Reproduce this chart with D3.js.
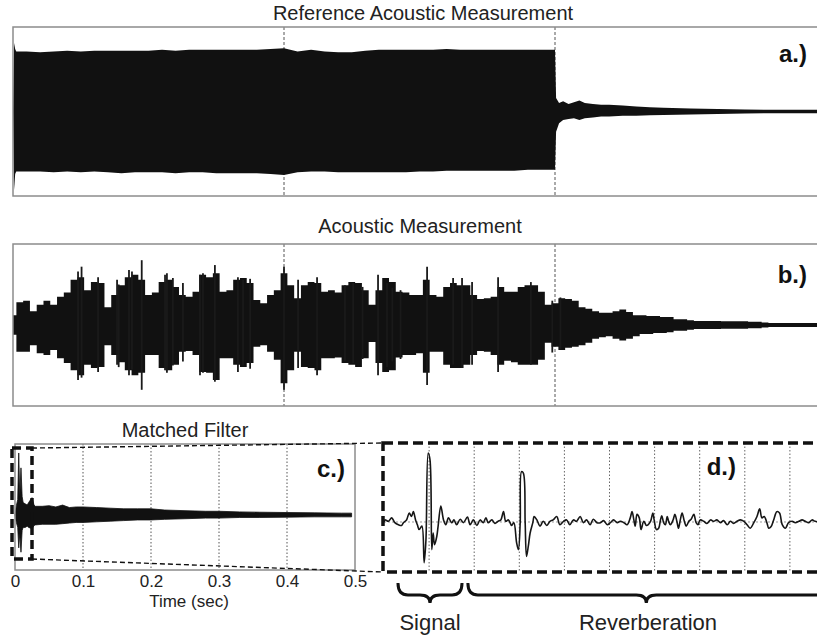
<!DOCTYPE html>
<html>
<head>
<meta charset="utf-8">
<script src="https://cdn.jsdelivr.net/npm/d3@7"></script>
<style>
body { margin: 0; background: #fff; }
text { font-family: "Liberation Sans", Arial, sans-serif; }
</style>
</head>
<body>
<div id="chart"></div>
<script>
// a.) reference measurement envelope (time in sec, amplitude normalised)
var refTime = [0, 0.004, 0.008, 0.012,
    0.05, 0.1, 0.15, 0.2, 0.25, 0.3, 0.35, 0.4, 0.45, 0.5,
    0.55, 0.6, 0.65, 0.7, 0.75, 0.8, 0.85, 0.9, 0.95, 1.0,
    1.05, 1.1, 1.15, 1.2, 1.25, 1.3, 1.35, 1.4, 1.45, 1.5,
    1.55, 1.6, 1.65, 1.7, 1.75, 1.8, 1.85, 1.9, 1.95, 2.0,
    2.004, 2.015, 2.03, 2.05, 2.07, 2.09, 2.11, 2.14, 2.17, 2.2,
    2.25, 2.3, 2.35, 2.4, 2.5, 2.6, 2.7, 2.8, 3.0];
var refTop = [0, 0.81, 0.74, 0.71,
    0.71, 0.70, 0.71, 0.72, 0.71, 0.72, 0.72, 0.72, 0.72, 0.72,
    0.73, 0.72, 0.73, 0.73, 0.73, 0.73, 0.73, 0.73, 0.74, 0.75,
    0.71, 0.73, 0.71, 0.70, 0.70, 0.72, 0.73, 0.73, 0.73, 0.73,
    0.73, 0.74, 0.73, 0.73, 0.73, 0.73, 0.73, 0.73, 0.73, 0.73,
    0.16, 0.10, 0.12, 0.09, 0.11, 0.13, 0.10, 0.09, 0.08, 0.08,
    0.07, 0.06, 0.05, 0.045, 0.035, 0.03, 0.025, 0.02, 0.02];
var refBottom = [0, 0.93, 0.74, 0.71,
    0.71, 0.71, 0.72, 0.71, 0.72, 0.71, 0.72, 0.73, 0.72, 0.72,
    0.72, 0.73, 0.72, 0.72, 0.73, 0.73, 0.73, 0.73, 0.74, 0.75,
    0.72, 0.71, 0.71, 0.72, 0.72, 0.72, 0.72, 0.72, 0.72, 0.71,
    0.71, 0.70, 0.70, 0.70, 0.70, 0.70, 0.70, 0.69, 0.69, 0.69,
    0.24, 0.14, 0.10, 0.09, 0.08, 0.10, 0.08, 0.07, 0.06, 0.06,
    0.05, 0.05, 0.045, 0.04, 0.035, 0.03, 0.025, 0.02, 0.02];

// b.) acoustic measurement envelope, one sample every 0.025 s
var measStep = 0.025;
var measTop = [0.12, 0.28, 0.30, 0.17, 0.25, 0.30, 0.25, 0.35, 0.40, 0.56,
    0.59, 0.43, 0.53, 0.52, 0.22, 0.37, 0.49, 0.59, 0.62, 0.56,
    0.37, 0.40, 0.53, 0.56, 0.47, 0.37, 0.35, 0.41, 0.62, 0.59,
    0.64, 0.41, 0.43, 0.56, 0.58, 0.52, 0.31, 0.27, 0.37, 0.43,
    0.64, 0.49, 0.33, 0.49, 0.53, 0.52, 0.41, 0.43, 0.40, 0.49,
    0.53, 0.52, 0.43, 0.25, 0.43, 0.58, 0.53, 0.41, 0.40, 0.37,
    0.37, 0.56, 0.37, 0.35, 0.47, 0.52, 0.49, 0.49, 0.37, 0.32,
    0.33, 0.35, 0.47, 0.41, 0.41, 0.47, 0.49, 0.49, 0.41, 0.25,
    0.27, 0.33, 0.32, 0.30, 0.22, 0.20, 0.17, 0.15, 0.15, 0.17,
    0.19, 0.16, 0.12, 0.12, 0.11, 0.11, 0.10, 0.10, 0.07, 0.07,
    0.06, 0.05, 0.05, 0.05, 0.05, 0.045, 0.045, 0.045, 0.045, 0.04,
    0.04, 0.03, 0.025, 0.025, 0.025, 0.025, 0.025, 0.025, 0.025, 0.025, 0.025];
var measBottom = [0.12, 0.33, 0.33, 0.25, 0.35, 0.37, 0.31, 0.41, 0.47, 0.56,
    0.62, 0.49, 0.53, 0.52, 0.25, 0.37, 0.46, 0.56, 0.62, 0.59,
    0.37, 0.37, 0.53, 0.56, 0.49, 0.33, 0.32, 0.37, 0.58, 0.59,
    0.68, 0.41, 0.41, 0.49, 0.52, 0.47, 0.27, 0.25, 0.33, 0.43,
    0.72, 0.56, 0.33, 0.52, 0.53, 0.56, 0.41, 0.41, 0.40, 0.47,
    0.49, 0.52, 0.41, 0.21, 0.47, 0.58, 0.56, 0.40, 0.37, 0.37,
    0.35, 0.59, 0.33, 0.33, 0.49, 0.53, 0.53, 0.49, 0.37, 0.32,
    0.33, 0.37, 0.49, 0.44, 0.46, 0.49, 0.49, 0.49, 0.43, 0.22,
    0.27, 0.31, 0.28, 0.27, 0.25, 0.22, 0.17, 0.15, 0.14, 0.17,
    0.19, 0.17, 0.14, 0.11, 0.11, 0.10, 0.10, 0.09, 0.07, 0.07,
    0.06, 0.05, 0.05, 0.05, 0.05, 0.045, 0.045, 0.045, 0.045, 0.04,
    0.04, 0.03, 0.025, 0.025, 0.025, 0.025, 0.025, 0.025, 0.025, 0.025, 0.025];
// isolated peaks sticking out of the envelope: [time, up, down]
var measSpikes = [[0.253, 0.72, 0.65], [0.24, 0.66, 0.68], [0.314, 0.59, 0.58], [0.384, 0.56, 0.49],
    [0.39, 0.50, 0.52], [0.428, 0.68, 0.62], [0.439, 0.66, 0.55], [0.475, 0.80, 0.80],
    [0.561, 0.62, 0.56], [0.568, 0.64, 0.59], [0.59, 0.58, 0.50], [0.627, 0.52, 0.45],
    [0.69, 0.62, 0.62], [0.701, 0.64, 0.59], [0.745, 0.74, 0.70], [0.830, 0.59, 0.58],
    [0.849, 0.56, 0.50], [0.875, 0.57, 0.54], [1.000, 0.72, 0.80], [1.052, 0.56, 0.53],
    [1.122, 0.59, 0.62], [1.225, 0.49, 0.44], [1.255, 0.52, 0.47], [1.29, 0.47, 0.42],
    [1.347, 0.62, 0.62], [1.380, 0.52, 0.52], [1.40, 0.46, 0.45], [1.43, 0.43, 0.42],
    [1.528, 0.72, 0.74], [1.624, 0.58, 0.49], [1.657, 0.58, 0.53], [1.694, 0.53, 0.49],
    [1.790, 0.59, 0.58], [1.911, 0.53, 0.49], [1.99, 0.30, 0.34], [2.02, 0.34, 0.30]];

// c.) matched filter output envelope
var mfTime = [0, 0.002, 0.004, 0.0055, 0.007, 0.0088, 0.0105, 0.012, 0.015, 0.018,
    0.02, 0.025, 0.028, 0.03, 0.04, 0.05, 0.06, 0.07, 0.08, 0.09,
    0.1, 0.12, 0.14, 0.16, 0.18, 0.2, 0.22, 0.25, 0.28, 0.3,
    0.33, 0.36, 0.4, 0.44, 0.48, 0.495];
var mfTop = [0, 0.15, 0.25, 1.0, 0.3, 0.76, 0.3, 0.2, 0.18, 0.16,
    0.2, 0.28, 0.16, 0.14, 0.14, 0.15, 0.13, 0.16, 0.12, 0.13,
    0.13, 0.12, 0.11, 0.10, 0.10, 0.10, 0.08, 0.07, 0.06, 0.06,
    0.05, 0.045, 0.04, 0.035, 0.03, 0.03];
var mfBottom = [0, 0.12, 0.2, 0.53, 0.3, 0.6, 0.25, 0.2, 0.2, 0.18,
    0.2, 0.22, 0.17, 0.16, 0.15, 0.15, 0.15, 0.14, 0.13, 0.12,
    0.12, 0.11, 0.10, 0.09, 0.08, 0.08, 0.07, 0.06, 0.05, 0.05,
    0.04, 0.04, 0.035, 0.03, 0.03, 0.03];
var mfTicks = [0, 0.1, 0.2, 0.3, 0.4, 0.5];
var zoomWindow = [-0.0044, 0.025];   // time span shown in d.)
var zoomAmp = [-0.71, 1.08];

// d.) zoomed matched filter trace: [grid units, amplitude]
var zoomTrace = [[0,0],[0.02,0.03],[0.10,0.01],[0.17,0.06],[0.24,-0.01],[0.32,-0.04],[0.39,-0.05],[0.43,-0.01],[0.50,0.03],[0.56,0.13],
    [0.61,0.08],[0.65,0.15],[0.70,0.03],[0.74,-0.04],[0.78,-0.11],[0.84,-0.06],[0.89,-0.59],[0.93,-0.26],[0.98,1.0],[1.02,0.90],
    [1.06,-0.40],[1.09,-0.16],[1.12,-0.33],[1.17,-0.21],[1.20,-0.06],[1.26,0.23],[1.32,0.03],[1.37,-0.04],[1.43,0.06],[1.50,-0.01],
    [1.55,0.03],[1.61,-0.04],[1.69,0.04],[1.76,-0.01],[1.85,0.07],[1.91,-0.04],[1.98,0.03],[2.06,-0.05],[2.13,0.03],[2.20,-0.01],
    [2.26,0.06],[2.31,-0.01],[2.39,0.03],[2.46,-0.02],[2.53,0.01],[2.59,0.03],[2.65,0.15],[2.70,0.01],[2.76,0.03],[2.83,-0.05],
    [2.88,-0.01],[2.94,-0.30],[2.98,-0.40],[3.02,-0.01],[3.05,0.73],[3.09,0.71],[3.13,-0.01],[3.16,-0.50],[3.20,-0.35],[3.24,-0.16],
    [3.30,-0.01],[3.33,0.08],[3.39,0.03],[3.46,-0.06],[3.53,0.01],[3.61,-0.05],[3.68,0.01],[3.75,0.03],[3.83,0.08],[3.90,-0.04],
    [3.98,0.01],[4.05,0.03],[4.12,-0.04],[4.20,0.03],[4.27,0.01],[4.35,0.08],[4.42,-0.01],[4.49,0.03],[4.57,-0.04],[4.64,0.04],
    [4.72,-0.01],[4.80,-0.01],[4.87,0.02],[4.95,-0.04],[5.02,-0.01],[5.09,0.03],[5.17,-0.01],[5.24,0.01],[5.32,-0.01],[5.39,-0.04],
    [5.46,0.06],[5.50,0.15],[5.54,0.03],[5.57,-0.06],[5.61,0.11],[5.66,0.06],[5.70,-0.11],[5.76,0.01],[5.82,-0.05],[5.91,0.01],
    [5.96,0.13],[5.99,0.03],[6.04,-0.11],[6.09,-0.09],[6.13,0.03],[6.16,0.09],[6.20,-0.01],[6.24,-0.04],[6.28,0.08],[6.31,0.01],
    [6.35,-0.04],[6.41,0.03],[6.45,0.11],[6.50,-0.01],[6.53,-0.09],[6.57,0.03],[6.61,0.13],[6.66,0.01],[6.70,-0.06],[6.76,0.01],
    [6.81,0.04],[6.87,0.11],[6.92,-0.01],[6.96,-0.04],[7.01,0.03],[7.09,0.01],[7.16,-0.02],[7.24,0.03],[7.31,0.01],[7.38,0.03],
    [7.46,-0.01],[7.53,0.02],[7.61,-0.04],[7.68,0.01],[7.75,-0.02],[7.83,0.01],[7.90,0.03],[7.98,0.01],[8.05,-0.04],[8.12,-0.09],
    [8.20,-0.01],[8.27,0.08],[8.33,0.19],[8.38,0.06],[8.43,0.08],[8.49,-0.01],[8.53,-0.09],[8.58,-0.07],[8.64,0.03],[8.71,0.15],
    [8.77,0.13],[8.83,-0.04],[8.90,-0.09],[8.97,-0.01],[9.05,0.01],[9.12,-0.01],[9.20,0.01],[9.27,0.03],[9.34,0.01],[9.42,-0.01],
    [9.49,0.03],[9.56,0.01],[9.67,0],[9.78,0.02],[10,0]];
var zoomGrid = [1, 2, 3, 4, 5, 6, 7, 8, 9];
var signalSpan = [0.31, 1.73];
var reverbSpan = [1.86, 9.95];

var W = 817, H = 638;
var ink = "#111";
var frameCol = "#8c8c8c";

var svg = d3.select("#chart")
    .append("svg")
    .attr("width", W)
    .attr("height", H);

var tX = d3.scaleLinear().domain([0, 3]).range([13, 826]);
var aY = d3.scaleLinear().domain([-1, 1]).range([196, 27]);
var bY = d3.scaleLinear().domain([-1, 1]).range([406, 244]);
var cX = d3.scaleLinear().domain([0, 0.5]).range([15, 355]);
var cY = d3.scaleLinear().domain([-0.887, 1.145]).range([570, 444]);
var dX = d3.scaleLinear().domain([0, 10]).range([384, 835]);
var dY = d3.scaleLinear().domain([-0.725, 1.145]).range([572, 443]);

function frame(x, y) {
    svg.append("rect")
        .attr("x", x.range()[0])
        .attr("y", y.range()[1])
        .attr("width", x.range()[1] - x.range()[0])
        .attr("height", y.range()[0] - y.range()[1])
        .attr("fill", "none")
        .attr("stroke", frameCol)
        .attr("stroke-width", 1.5);
}

function vgrid(g, ticks, x, y, dash, col) {
    g.selectAll(null)
        .data(ticks)
        .enter()
        .append("line")
        .attr("x1", function(d){ return x(d); })
        .attr("x2", function(d){ return x(d); })
        .attr("y1", y.range()[1])
        .attr("y2", y.range()[0])
        .attr("stroke", col)
        .attr("stroke-width", 1)
        .attr("stroke-dasharray", dash);
}

function title(txt, x, y) {
    svg.append("text")
        .attr("x", x).attr("y", y)
        .attr("text-anchor", "middle")
        .attr("font-size", 20)
        .attr("fill", "#222")
        .text(txt);
}

function tag(txt, x, y) {
    svg.append("text")
        .attr("x", x).attr("y", y)
        .attr("text-anchor", "end")
        .attr("font-size", 24)
        .attr("font-weight", "bold")
        .attr("fill", ink)
        .text(txt);
}

// ---- a.)
title("Reference Acoustic Measurement", 423, 20);
var ga = svg.append("g");
vgrid(ga, [1, 2], tX, aY, "3,2", "#555");
ga.append("path")
    .datum(d3.range(refTime.length))
    .attr("fill", ink)
    .attr("d", d3.area()
        .x(function(i){ return tX(refTime[i]); })
        .y0(function(i){ return aY(-refBottom[i]); })
        .y1(function(i){ return aY(refTop[i]); }));
frame(tX, aY);
tag("a.)", 807, 62);

// ---- b.)
title("Acoustic Measurement", 420, 233);
var gb = svg.append("g");
vgrid(gb, [1, 2], tX, bY, "3,2", "#555");
gb.append("path")
    .datum(d3.range(measTop.length))
    .attr("fill", ink)
    .attr("d", d3.area()
        .curve(d3.curveStep)
        .x(function(i){ return tX(i * measStep); })
        .y0(function(i){ return bY(-measBottom[i]); })
        .y1(function(i){ return bY(measTop[i]); }));
gb.selectAll(null)
    .data(measSpikes)
    .enter()
    .append("line")
    .attr("x1", function(d){ return tX(d[0]); })
    .attr("x2", function(d){ return tX(d[0]); })
    .attr("y1", function(d){ return bY(d[1]); })
    .attr("y2", function(d){ return bY(-d[2]); })
    .attr("stroke", "#1a1a1a")
    .attr("stroke-width", 1.8);
frame(tX, bY);
tag("b.)", 807, 283);

// ---- c.)
title("Matched Filter", 185, 437);
var gc = svg.append("g");
vgrid(gc, [0.1, 0.2, 0.3, 0.4], cX, cY, "1.5,2", "#555");
gc.append("path")
    .datum(d3.range(mfTime.length))
    .attr("fill", ink)
    .attr("stroke", ink)
    .attr("stroke-width", 0.8)
    .attr("d", d3.area()
        .x(function(i){ return cX(mfTime[i]); })
        .y0(function(i){ return cY(-mfBottom[i]); })
        .y1(function(i){ return cY(mfTop[i]); }));
frame(cX, cY);

var cAxis = d3.axisBottom(cX)
    .tickValues(mfTicks)
    .tickSize(0)
    .tickPadding(5)
    .tickFormat(d3.format("~g"));
svg.append("g")
    .attr("transform", "translate(0," + cY.range()[0] + ")")
    .call(cAxis)
    .call(function(g){ g.select(".domain").remove(); })
    .selectAll("text")
    .attr("font-size", 17)
    .attr("font-family", "Liberation Sans, Arial, sans-serif")
    .attr("fill", "#222");
svg.append("text")
    .attr("x", 189).attr("y", 607)
    .attr("text-anchor", "middle")
    .attr("font-size", 17)
    .attr("fill", "#222")
    .text("Time (sec)");
tag("c.)", 345, 477);

// ---- d.)
var gd = svg.append("g");
vgrid(gd, zoomGrid, dX, dY, "1.5,2", "#666");
gd.append("line")
    .attr("x1", dX(0)).attr("x2", dX(10))
    .attr("y1", dY(0)).attr("y2", dY(0))
    .attr("stroke", "#999")
    .attr("stroke-dasharray", "2,2");
gd.append("path")
    .datum(zoomTrace)
    .attr("fill", "none")
    .attr("stroke", "#161616")
    .attr("stroke-width", 1.6)
    .attr("d", d3.line()
        .curve(d3.curveCatmullRom.alpha(0.5))
        .x(function(d){ return dX(d[0]); })
        .y(function(d){ return dY(d[1]); }));
tag("d.)", 736, 475);

// zoom box in c.) and its link to d.)
var bx0 = cX(zoomWindow[0]), bx1 = cX(zoomWindow[1]);
var by0 = cY(zoomAmp[1]), by1 = cY(zoomAmp[0]);
var dx0 = dX.range()[0] - 1, dy0 = dY.range()[1], dy1 = dY.range()[0];

svg.append("line")
    .attr("x1", bx1).attr("y1", by0).attr("x2", dx0).attr("y2", dy0)
    .attr("stroke", ink).attr("stroke-width", 1.4).attr("stroke-dasharray", "5,3");
svg.append("line")
    .attr("x1", bx1).attr("y1", by1).attr("x2", dx0).attr("y2", dy1)
    .attr("stroke", ink).attr("stroke-width", 1.4).attr("stroke-dasharray", "5,3");

svg.append("rect")
    .attr("x", bx0).attr("y", by0)
    .attr("width", bx1 - bx0).attr("height", by1 - by0)
    .attr("fill", "none")
    .attr("stroke", ink)
    .attr("stroke-width", 3.5)
    .attr("stroke-dasharray", "9,5");
svg.append("rect")
    .attr("x", dx0).attr("y", dy0)
    .attr("width", 460).attr("height", dy1 - dy0)
    .attr("fill", "none")
    .attr("stroke", ink)
    .attr("stroke-width", 3.5)
    .attr("stroke-dasharray", "10,5");

// braces under d.)
function brace(x0, x1, y, open) {
    var m = (x0 + x1) / 2, h = 12, r = 10;
    var p = "M" + x0 + "," + y +
        " Q" + x0 + "," + (y + h) + " " + (x0 + r) + "," + (y + h) +
        " L" + (m - r) + "," + (y + h) +
        " Q" + m + "," + (y + h) + " " + m + "," + (y + h + 8) +
        " Q" + m + "," + (y + h) + " " + (m + r) + "," + (y + h);
    if (open) {
        p += " L" + x1 + "," + (y + h);
    } else {
        p += " L" + (x1 - r) + "," + (y + h) +
            " Q" + x1 + "," + (y + h) + " " + x1 + "," + y;
    }
    svg.append("path")
        .attr("d", p)
        .attr("fill", "none")
        .attr("stroke", ink)
        .attr("stroke-width", 3);
}
brace(dX(signalSpan[0]), dX(signalSpan[1]), 583, false);
brace(dX(reverbSpan[0]), dX(reverbSpan[1]) - 8, 583, true);
svg.append("path")
    .attr("d", "M" + (dX(reverbSpan[1]) - 12) + ",589 L" + (dX(reverbSpan[1]) + 2) + ",595 L" + (dX(reverbSpan[1]) - 12) + ",601 Z")
    .attr("fill", ink);

svg.append("text")
    .attr("x", dX(d3.mean(signalSpan))).attr("y", 630)
    .attr("text-anchor", "middle")
    .attr("font-size", 22)
    .attr("fill", "#222")
    .text("Signal");
svg.append("text")
    .attr("x", 648).attr("y", 630)
    .attr("text-anchor", "middle")
    .attr("font-size", 22)
    .attr("fill", "#222")
    .text("Reverberation");
</script>
</body>
</html>
